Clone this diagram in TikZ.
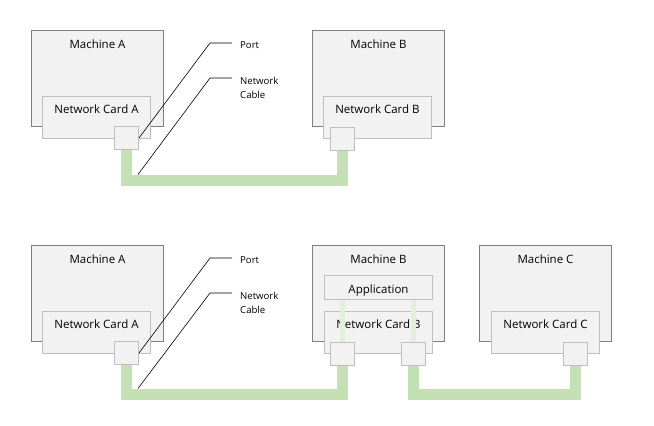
\documentclass[tikz,border=0pt]{standalone}
\usepackage{fontspec}
\setmainfont{Open Sans}
\usepackage{xcolor}
\usetikzlibrary{calc}

\definecolor{boxfill}{HTML}{F2F2F2}
\definecolor{machineline}{HTML}{7F7F7F}
\definecolor{cardline}{HTML}{BFBFBF}
\definecolor{cablegreen}{HTML}{C5E0B4}
\definecolor{linkgreen}{HTML}{E2F0D9}

\tikzset{
  machine/.style={draw=machineline, fill=boxfill, line width=1pt, inner sep=0pt,
    minimum width=132pt, minimum height=96pt, anchor=north west},
  card/.style={draw=cardline, fill=boxfill, line width=1pt, inner sep=0pt,
    minimum width=108pt, minimum height=42pt, anchor=north west},
  appbox/.style={draw=cardline, fill=boxfill, line width=1pt, inner sep=0pt,
    minimum width=108pt, minimum height=24pt, anchor=north west},
  port/.style={draw=cardline, fill=boxfill, line width=1pt, inner sep=0pt,
    minimum width=24pt, minimum height=23pt, anchor=north west},
  boxtext/.style={font=\fontsize{11.5}{13}\selectfont, inner sep=0pt, anchor=base},
  note/.style={font=\fontsize{9.6}{14.3}\selectfont, inner sep=0pt, anchor=base west, align=left},
  cable/.style={draw=cablegreen, line width=11pt},
  link/.style={draw=linkgreen, line width=5pt},
  leader/.style={draw=black, line width=0.6pt},
}

\begin{document}
\begin{tikzpicture}[x=1pt, y=-1pt]
    \useasboundingbox (0,0) rectangle (654,426);

    % two machines, one cable
    \node[machine] (ma) at (31,30) {};
    \node[boxtext] (ma-t) at ($(ma.north)+(0,18)$) {Machine A};
    \node[card] (ca) at (42,96) {};
    \node[boxtext] (ca-t) at ($(ca.north)+(0,17)$) {Network Card A};

    \node[machine] (mb) at (312,30) {};
    \node[boxtext] (mb-t) at ($(mb.north)+(0,18)$) {Machine B};
    \node[card] (cb) at (323,96) {};
    \node[boxtext] (cb-t) at ($(cb.north)+(0,17)$) {Network Card B};

    \node[port] (pa) at (114,126) {};
    \node[port] (pb) at (330,127) {};

    \coordinate (run) at (0,180);
    \draw[cable] (pa.south) -- (pa.south |- run) -- (pb.south |- run) -- (pb.south);

    \coordinate (port-k) at (210,43);
    \coordinate (port-e) at (232,43);
    \draw[leader] (pa.east) -- (port-k) -- (port-e);
    \node[note] (port-l) at (240,48) {Port};

    \coordinate (cab-hit) at (138,174.5);
    \coordinate (net-k) at (210,78);
    \coordinate (net-e) at (232,78);
    \draw[leader] (cab-hit) -- (net-k) -- (net-e);
    \node[note] (net-l) at (240,98.3) {Network\\Cable};

    % three machines, the application in the middle
    \node[machine] (ma2) at (31,245) {};
    \node[boxtext] (ma2-t) at ($(ma2.north)+(0,18)$) {Machine A};
    \node[card] (ca2) at (42,311) {};
    \node[boxtext] (ca2-t) at ($(ca2.north)+(0,17)$) {Network Card A};

    \node[machine] (mb2) at (312,245) {};
    \node[boxtext] (mb2-t) at ($(mb2.north)+(0,18)$) {Machine B};
    \node[appbox] (app) at (324,275) {};
    \node[boxtext] (app-t) at ($(app.north)+(0,18)$) {Application};
    \node[card] (cb2) at (324,311) {};
    \node[boxtext] (cb2-t) at ($(cb2.north)+(0,17)$) {Network Card B};

    \node[machine] (mc) at (479,245) {};
    \node[boxtext] (mc-t) at ($(mc.north)+(0,18)$) {Machine C};
    \node[card] (cc) at (491,311) {};
    \node[boxtext] (cc-t) at ($(cc.north)+(0,17)$) {Network Card C};

    \node[port] (pa2) at (114,341) {};
    \node[port] (pb2) at (330,342) {};
    \node[port] (pb3) at (401,342) {};
    \node[port] (pc) at (563,342) {};

    \coordinate (run2) at (0,394);
    \draw[link] (pb2.north |- app.south) -- (pb2.north);
    \draw[link] (pb3.north |- app.south) -- (pb3.north);
    \draw[cable] (pa2.south) -- (pa2.south |- run2) -- (pb2.south |- run2) -- (pb2.south);
    \draw[cable] (pb3.south) -- (pb3.south |- run2) -- (pc.south |- run2) -- (pc.south);

    \coordinate (port2-k) at (210,258);
    \coordinate (port2-e) at (232,258);
    \draw[leader] (pa2.east) -- (port2-k) -- (port2-e);
    \node[note] (port2-l) at (240,263) {Port};

    \coordinate (cab2-hit) at (138,388.5);
    \coordinate (net2-k) at (210,293);
    \coordinate (net2-e) at (232,293);
    \draw[leader] (cab2-hit) -- (net2-k) -- (net2-e);
    \node[note] (net2-l) at (240,313.3) {Network\\Cable};
\end{tikzpicture}
\end{document}
